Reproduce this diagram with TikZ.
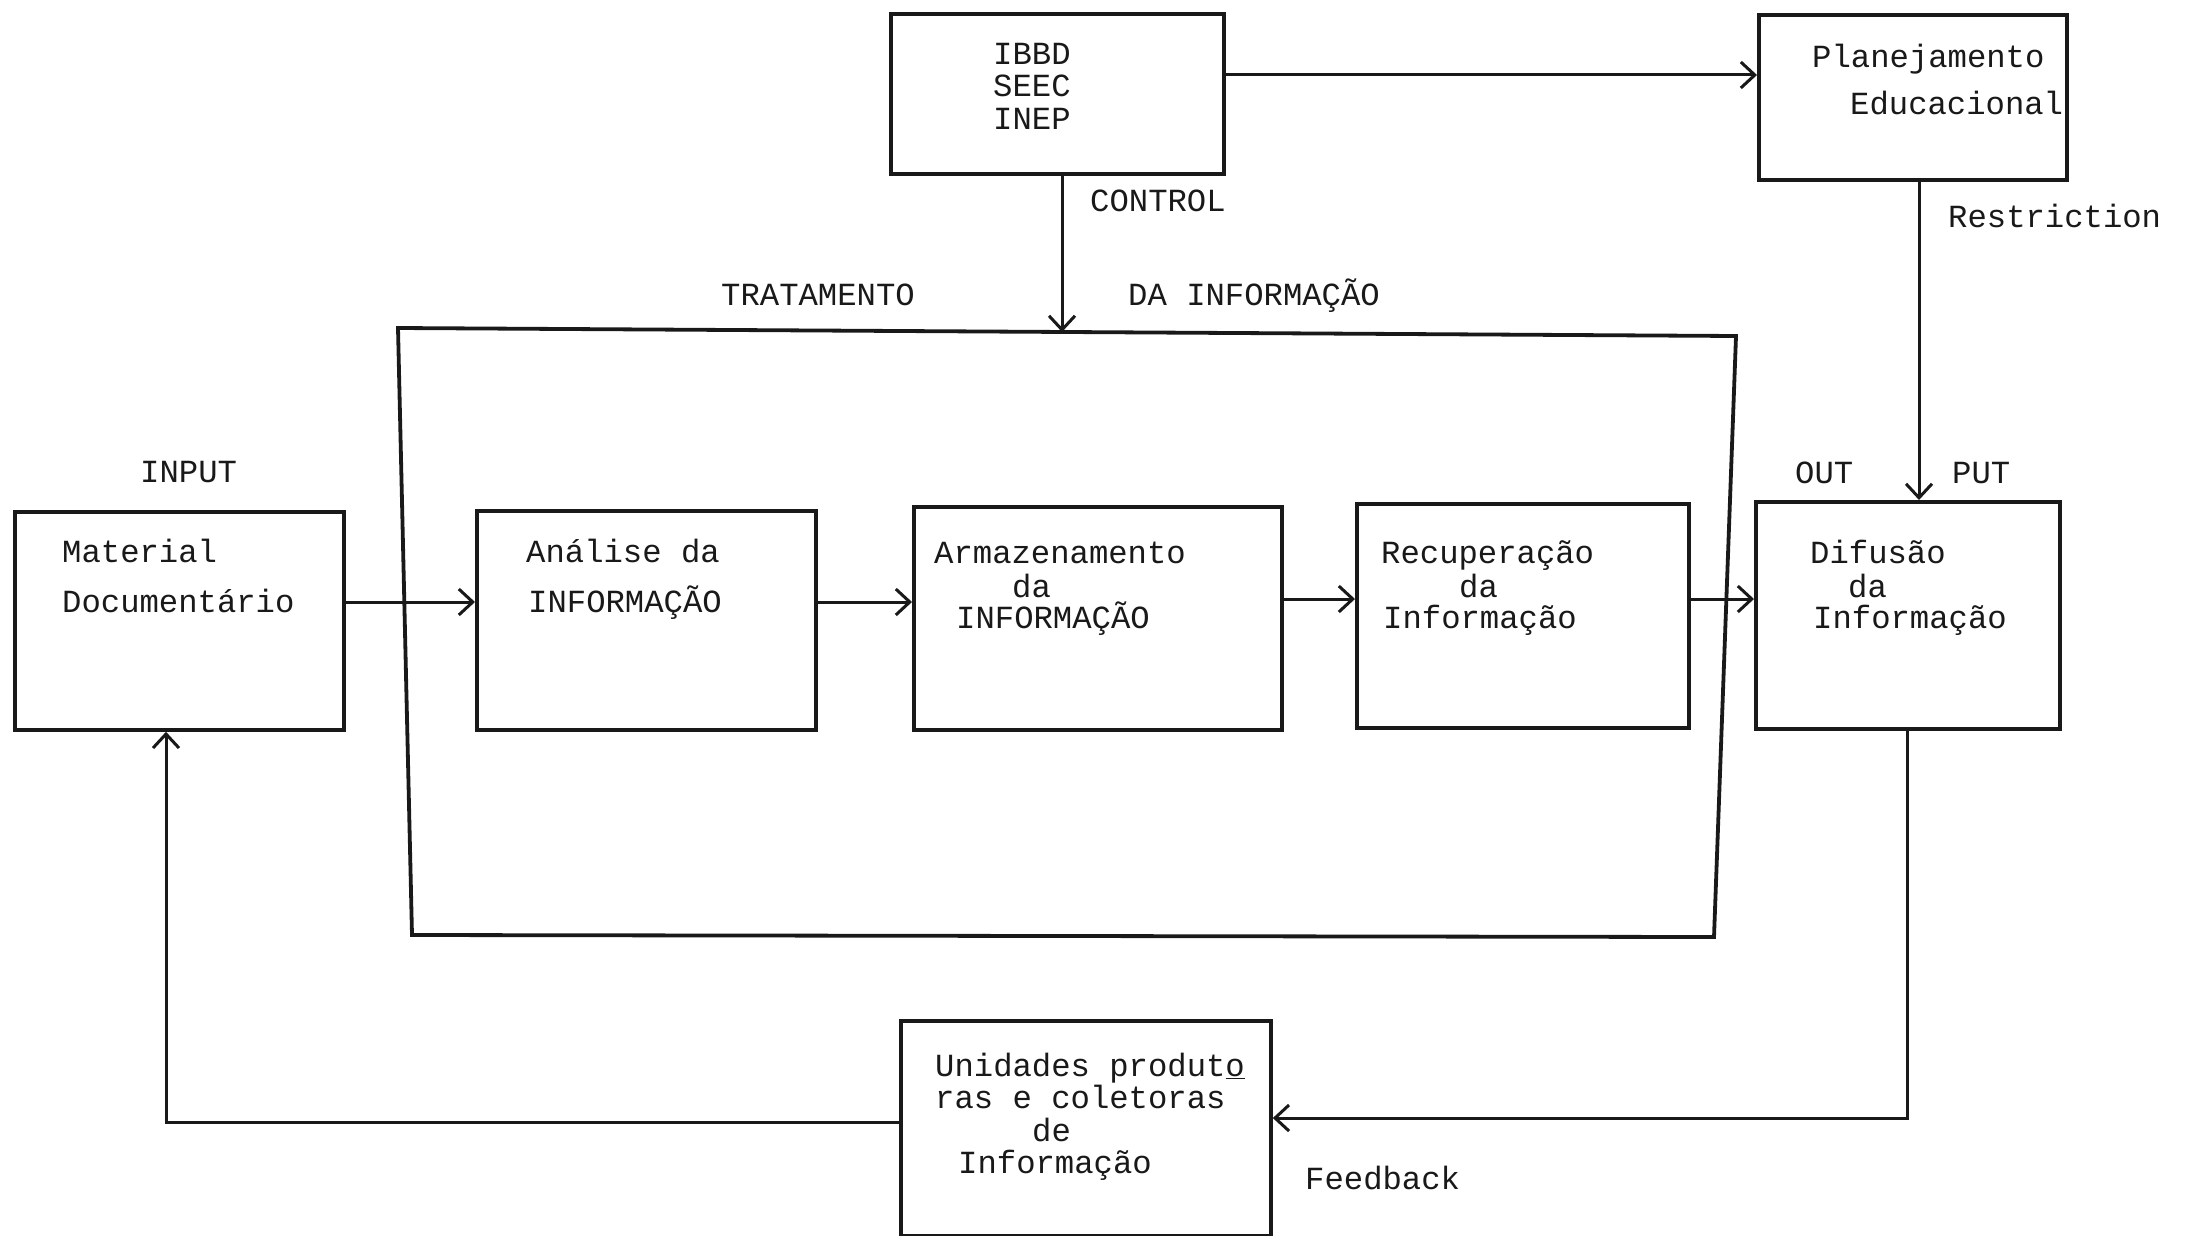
\documentclass[tikz,border=0pt]{standalone}
\usepackage{fontspec}
\setmonofont{Liberation Mono}
\usetikzlibrary{arrows.meta}
\begin{document}
\begin{tikzpicture}[x=1pt,y=-1pt,
  boxline/.style={draw=black!90, line width=3.8pt, line join=miter},
  box/.style={boxline, rectangle, inner sep=0pt, anchor=north west},
  txt/.style={font=\ttfamily\fontsize{32.25}{38}\selectfont, text=black!90, inner sep=0pt, anchor=base west},
  conn/.style={draw=black!90, line width=3pt},
  arr/.style={conn, -{Straight Barb[length=14pt,width=26pt]}}]
\useasboundingbox[fill=white] (0,0) rectangle (2186,1236);
% boxes
\node[box, minimum width=333pt, minimum height=160pt] (ibbd) at (889,12) {};
\node[box, minimum width=308pt, minimum height=165pt] (plan) at (1757,13) {};
\node[box, minimum width=329pt, minimum height=218pt] (mat) at (13,510) {};
\node[box, minimum width=339pt, minimum height=219pt] (anal) at (475,509) {};
\node[box, minimum width=368pt, minimum height=223pt] (arm) at (912,505) {};
\node[box, minimum width=332pt, minimum height=224pt] (rec) at (1355,502) {};
\node[box, minimum width=304pt, minimum height=227pt] (dif) at (1754,500) {};
\node[box, minimum width=370pt, minimum height=215pt] (uni) at (899,1019) {};
% the large "tratamento" frame (slightly skewed, as drawn)
\coordinate (tl) at (398,328);
\coordinate (tr) at (1736,336);
\coordinate (br) at (1714,937);
\coordinate (bl) at (412,935);
\draw[boxline] (tl) -- (tr) -- (br) -- (bl) -- cycle;
% helper coordinates
\coordinate (ia) at (1100,75);
\coordinate (cx) at (1062,0);
\coordinate (ct) at (1062,332);
\coordinate (rx) at (1919,0);
\coordinate (hy) at (0,602);
\coordinate (hy2) at (0,599);
\coordinate (fx) at (1907,1118);
\coordinate (gx) at (166,1122);
% connectors
\draw[arr] (ibbd.east |- ia) -- (plan.west |- ia);
\draw[arr] (ibbd.south -| cx) -- (ct);
\draw[arr] (plan.south -| rx) -- (dif.north -| rx);
\draw[arr] (mat.east |- hy) -- (anal.west |- hy);
\draw[arr] (anal.east |- hy) -- (arm.west |- hy);
\draw[arr] (arm.east |- hy2) -- (rec.west |- hy2);
\draw[arr] (rec.east |- hy2) -- (dif.west |- hy2);
\draw[arr] (dif.south -| fx) -- (fx) -- (uni.east |- fx);
\draw[arr] (uni.west |- gx) -- (gx) -- (mat.south -| gx);
% texts
\node[txt] (t1) at (993,65) {IBBD};
\node[txt] (t2) at (993,97) {SEEC};
\node[txt] (t3) at (993,130) {INEP};
\node[txt] (t4) at (1812,68) {Planejamento};
\node[txt] (t5) at (1850,114) {Educacional};
\node[txt] (t6) at (1948,227) {Restriction};
\node[txt] (t7) at (1090,211) {CONTROL};
\node[txt] (t8) at (721,305) {TRATAMENTO};
\node[txt] (t9) at (1128,305) {DA INFORMAÇÃO};
\node[txt] (t10) at (140,482) {INPUT};
\node[txt] (t11) at (1795,483) {OUT};
\node[txt] (t12) at (1952,483) {PUT};
\node[txt] (t13) at (62,562) {Material};
\node[txt] (t14) at (62,612) {Documentário};
\node[txt] (t15) at (526,562) {Análise da};
\node[txt] (t16) at (528,612) {INFORMAÇÃO};
\node[txt] (t17) at (934,563) {Armazenamento};
\node[txt] (t18) at (1012,597) {da};
\node[txt] (t19) at (956,628) {INFORMAÇÃO};
\node[txt] (t20) at (1381,563) {Recuperação};
\node[txt] (t21) at (1459,597) {da};
\node[txt] (t22) at (1383,628) {Informação};
\node[txt] (t23) at (1810,563) {Difusão};
\node[txt] (t24) at (1848,597) {da};
\node[txt] (t25) at (1813,628) {Informação};
\node[txt] (t26) at (935,1076) {Unidades produt\underline{o}};
\node[txt] (t27) at (935,1108) {ras e coletoras};
\node[txt] (t28) at (1032,1141) {de};
\node[txt] (t29) at (958,1173) {Informação};
\node[txt] (t30) at (1305,1189) {Feedback};
\end{tikzpicture}
\end{document}
